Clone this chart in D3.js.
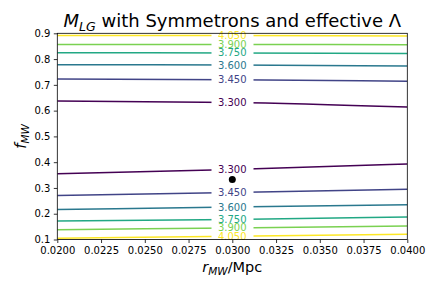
<!DOCTYPE html>
<html><head><meta charset="utf-8">
<script src="https://cdn.jsdelivr.net/npm/d3@7"></script>
<style>body{margin:0;background:#fff}svg{display:block;font-family:"DejaVu Sans",sans-serif}</style>
</head><body>
<svg id="c" width="436" height="291"></svg>
<script>
const levels = [3.30, 3.45, 3.60, 3.75, 3.90, 4.05];
const levelLabels = ["3.300","3.450","3.600","3.750","3.900","4.050"];
const xSamples = [0.020, 0.030, 0.040];
// upper branch f values at xSamples, per level
const upperF = [
  [0.637, 0.632, 0.614],
  [0.723, 0.720, 0.714],
  [0.778, 0.777, 0.773],
  [0.825, 0.824, 0.822],
  [0.857, 0.857, 0.856],
  [0.891, 0.891, 0.8895]
];
// lower branch f values at xSamples, per level
const lowerF = [
  [0.355, 0.372, 0.393],
  [0.271, 0.282, 0.295],
  [0.216, 0.226, 0.235],
  [0.172, 0.178, 0.187],
  [0.138, 0.145, 0.152],
  [0.105, 0.113, 0.120]
];
const point = {x: 0.030, f: 0.333};
const xTicks = [0.0200,0.0225,0.0250,0.0275,0.0300,0.0325,0.0350,0.0375,0.0400];
const yTicks = [0.1,0.2,0.3,0.4,0.5,0.6,0.7,0.8,0.9];

const svg = d3.select("#c");
const L = 57.3, R = 407.3, T = 33.3, B = 239.5;
const x = d3.scaleLinear().domain([0.02, 0.04]).range([L, R]);
const y = d3.scaleLinear().domain([0.1, 0.9]).range([B, T]);
const color = d3.scaleSequential(d3.interpolateViridis).domain([levels[0], levels[levels.length-1]]);

const gapL = 211.5, gapR = 253.5;
const defs = svg.append("defs");
const cp = defs.append("clipPath").attr("id","gap");
cp.append("rect").attr("x",L).attr("y",T).attr("width",gapL-L).attr("height",B-T);
cp.append("rect").attr("x",gapR).attr("y",T).attr("width",R-gapR).attr("height",B-T);

const line = d3.line().x((d,i)=>x(xSamples[i])).y(d=>y(d)).curve(d3.curveMonotoneX);
const g = svg.append("g");
levels.forEach((lv,i)=>{
  [upperF[i], lowerF[i]].forEach(arr=>{
    g.append("path").attr("d", line(arr)).attr("fill","none")
      .attr("stroke", color(lv)).attr("stroke-width",1.5).attr("clip-path","url(#gap)");
    g.append("text").attr("x", x(xSamples[1])).attr("y", y(arr[1]))
      .attr("text-anchor","middle").attr("dominant-baseline","central")
      .attr("font-size",10).attr("fill",color(lv)).text(levelLabels[i]);
  });
});

svg.append("circle").attr("cx",x(point.x)).attr("cy",y(point.f)).attr("r",3.5).attr("fill","#000");

// axes
const xa = svg.append("g").attr("transform",`translate(0,${B})`)
  .call(d3.axisBottom(x).tickValues(xTicks).tickFormat(d3.format(".4f")).tickSizeOuter(0).tickSize(3.5).tickPadding(3.5));
const ya = svg.append("g").attr("transform",`translate(${L},0)`)
  .call(d3.axisLeft(y).tickValues(yTicks).tickFormat(d3.format(".1f")).tickSizeOuter(0).tickSize(3.5).tickPadding(3.5));
[xa,ya].forEach(a=>{a.selectAll("text").attr("font-size",10).attr("fill","#000").attr("font-family","DejaVu Sans");
  a.selectAll("line").attr("stroke","#000").attr("stroke-width",0.8);
  a.select(".domain").remove();});
svg.append("rect").attr("x",L).attr("y",T).attr("width",R-L).attr("height",B-T)
  .attr("fill","none").attr("stroke","#000").attr("stroke-width",0.8);

// title
const t = svg.append("text").attr("x",(L+R)/2).attr("y",26.5).attr("text-anchor","middle").attr("font-size",18);
t.append("tspan").attr("font-style","italic").text("M");
t.append("tspan").attr("font-style","italic").attr("font-size",12.6).attr("dy",4).text("LG");
t.append("tspan").attr("dy",-4).text(" with Symmetrons and effective Λ");

// x label
const xl = svg.append("text").attr("x",(L+R)/2).attr("y",272).attr("text-anchor","middle").attr("font-size",14.5);
xl.append("tspan").attr("font-style","italic").text("r");
xl.append("tspan").attr("font-style","italic").attr("font-size",10.5).attr("dy",3).text("MW");
xl.append("tspan").attr("dy",-3).text("/Mpc");

// y label
const yl = svg.append("text").attr("transform",`translate(26,${(T+B)/2}) rotate(-90)`).attr("text-anchor","middle").attr("font-size",15);
yl.append("tspan").attr("font-style","italic").text("f");
yl.append("tspan").attr("font-style","italic").attr("font-size",10.5).attr("dy",3).text("MW");
</script>
</body></html>
